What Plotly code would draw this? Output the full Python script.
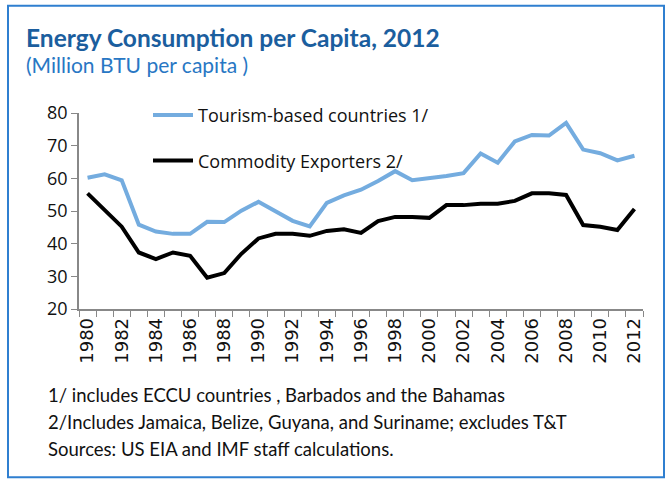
import plotly.graph_objects as go

years = list(range(1980, 2013))
tourism = [60.2, 61.2, 59.4, 45.8, 43.7, 43.0, 43.0, 46.7, 46.6, 50.1, 52.8,
           49.8, 47.0, 45.3, 52.5, 54.8, 56.5, 59.2, 62.2, 59.4, 59.9, 60.7,
           61.6, 67.6, 64.8, 71.3, 73.3, 73.1, 77.0, 68.8, 67.7, 65.5, 66.9]
commodity = [55.4, 50.1, 45.2, 37.3, 35.3, 37.3, 36.3, 29.6, 31.0, 36.9, 41.6,
             43.0, 43.0, 42.4, 43.9, 44.4, 43.3, 46.9, 48.2, 48.2, 47.9, 51.8,
             51.8, 52.2, 52.2, 53.1, 55.4, 55.4, 54.9, 45.7, 45.2, 44.2, 50.6]
tick_years = list(range(1980, 2013, 2))
tick_labels = [str(y) for y in tick_years]
boundaries = [y + 0.5 for y in range(1979, 2013)]

title = "<b>Energy Consumption per Capita, 2012</b>"
subtitle = "(Million BTU per capita )"
notes = ["1/ includes ECCU countries , Barbados and the Bahamas",
         "2/Includes Jamaica, Belize, Guyana, and Suriname; excludes T&T",
         "Sources: US EIA and IMF staff calculations."]
names = ["Tourism-based countries 1/", "Commodity Exporters 2/"]

W, H = 665, 479
L, R, T, B = 79, 643, 112.7, 309.3


def px(x):
    return (x - L) / (R - L)


def py(y):
    return (B - y) / (B - T)


fig = go.Figure()
fig.add_trace(go.Scatter(x=years, y=tourism, mode="lines", name=names[0],
                         line=dict(color="#74ACDF", width=4), legend="legend"))
fig.add_trace(go.Scatter(x=years, y=commodity, mode="lines", name=names[1],
                         line=dict(color="#000000", width=4), legend="legend2"))

axis_col = "#888888"
fig.update_layout(
    width=W, height=H,
    margin=dict(l=L, r=W - R, t=T, b=H - B, pad=0),
    paper_bgcolor="white", plot_bgcolor="white",
    showlegend=True,
    xaxis=dict(range=[1979.5, 2012.5], tickvals=tick_years, ticktext=tick_labels,
               ticks="", tickangle=-90, showgrid=False, zeroline=False,
               showline=True, linecolor=axis_col, linewidth=1.5,
               tickfont=dict(family="DejaVu Sans", size=18, color="#111111"),
               minor=dict(tickvals=boundaries, ticks="outside", ticklen=6,
                          tickcolor=axis_col, tickwidth=1.2, showgrid=False)),
    yaxis=dict(range=[20, 80], tickvals=[20, 30, 40, 50, 60, 70, 80],
               ticks="outside", ticklen=6, tickcolor=axis_col, tickwidth=1.2,
               showgrid=False, zeroline=False, showline=True,
               linecolor=axis_col, linewidth=1.5,
               tickfont=dict(family="Open Sans", size=18, color="#111111")),
    legend=dict(x=px(148), y=py(115), xanchor="left", yanchor="middle",
                bgcolor="rgba(0,0,0,0)", borderwidth=0,
                font=dict(family="Open Sans", size=18, color="#111111"),
                itemwidth=40),
    legend2=dict(x=px(148), y=py(160.7), xanchor="left", yanchor="middle",
                 bgcolor="rgba(0,0,0,0)", borderwidth=0,
                 font=dict(family="Open Sans", size=18, color="#111111"),
                 itemwidth=40),
)

fig.add_annotation(text=title, xref="paper", yref="paper", x=px(24), y=py(37),
                   xanchor="left", yanchor="middle", showarrow=False,
                   font=dict(family="Lato", size=24.5, color="#1B5E9E"))
fig.add_annotation(text=subtitle, xref="paper", yref="paper", x=px(24), y=py(64),
                   xanchor="left", yanchor="middle", showarrow=False,
                   font=dict(family="Lato", size=21, color="#2877C4"))
for i, (t, yy) in enumerate(zip(notes, [396, 423, 450])):
    fig.add_annotation(text=t, xref="paper", yref="paper", x=px(46), y=py(yy),
                       xanchor="left", yanchor="middle", showarrow=False,
                       font=dict(family="Lato", size=18.5, color="#111111"))

# outer border
fig.add_shape(type="rect", xref="paper", yref="paper",
              x0=px(8), x1=px(664), y0=py(478), y1=py(5),
              line=dict(color="#2F7FD0", width=2), layer="below")

fig.write_html("out.html", config={"displayModeBar": False},
               post_script="document.body.style.margin='0px';")
